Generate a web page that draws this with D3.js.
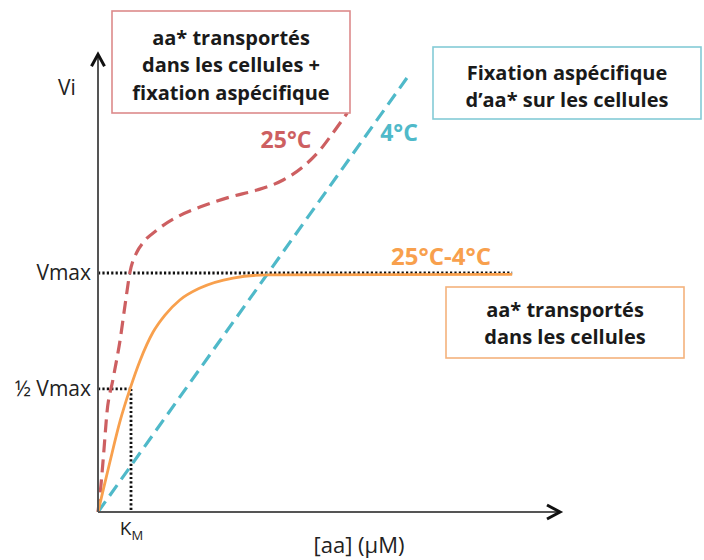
<!DOCTYPE html>
<html><head><meta charset="utf-8">
<script src="https://cdn.jsdelivr.net/npm/d3@7"></script>
<style>
html,body{margin:0;padding:0;background:#fff;}
svg{display:block;}
text{font-family:"Open Sans","Noto Sans",sans-serif;}
</style></head>
<body><svg id="c" width="704" height="560"></svg>
<script>
// ---- data (x in arbitrary [aa] units, K_M = 1; y in units of Vmax) ----
const xMax = 14;
const yMax = 1.915;
const KM = 1;
const Vmax = 1;
const yTickValues = [0.515, 1];
const yTickLabels = ["½ Vmax", "Vmax"];
const xTickValues = [1];
const xTickLabels = ["K|M"];
const yAxisTitle = "Vi";
const xAxisTitle = "[aa] (µM)";

// 25°C total uptake (transport + non-specific binding)
const red25X = [0, 0.09, 0.18, 0.27, 0.45, 0.67, 0.82, 0.97, 1.18, 1.36, 1.79, 2.39, 3.09, 4.00, 4.82, 5.61, 6.21, 6.73, 7.12, 7.55];
const red25Y = [0, 0.113, 0.259, 0.414, 0.552, 0.720, 0.866, 1.004, 1.088, 1.126, 1.180, 1.234, 1.276, 1.318, 1.347, 1.389, 1.444, 1.515, 1.586, 1.669];
// 4°C non-specific binding (linear)
const blue4X = [0, 9.36];
const blue4Y = [0, 1.816];
// 25°C - 4°C : transport (saturable)
const orangeX = [0, 0.18, 0.36, 0.67, 0.97, 1.27, 1.67, 2.03, 2.48, 3.09, 4.09, 5.12, 12.55];
const orangeY = [0, 0.105, 0.209, 0.381, 0.515, 0.632, 0.753, 0.824, 0.887, 0.937, 0.979, 0.992, 0.994];
const vmaxLineEnd = 12.55;

const curveLabels = ["25°C", "4°C", "25°C-4°C"];
const boxTexts = [
  ["aa* transportés", "dans les cellules +", "fixation aspécifique"],
  ["Fixation aspécifique", "d’aa* sur les cellules"],
  ["aa* transportés", "dans les cellules"]
];

// ---- drawing ----
const svg = d3.select("#c");
const x = d3.scaleLinear().domain([0, xMax]).range([98, 560]);
const y = d3.scaleLinear().domain([0, Vmax]).range([512, 273]);

const RED = "#cd5f61", BLUE = "#4fb9c9", ORANGE = "#f8a04d";

// guide dotted lines
const dot = {stroke:"#111", "stroke-width":2.8, "stroke-dasharray":"2.2,2.2"};
function line(x1,y1,x2,y2,attrs){
  const l = svg.append("line").attr("x1",x1).attr("y1",y1).attr("x2",x2).attr("y2",y2);
  for (const k in attrs) l.attr(k, attrs[k]);
  return l;
}
line(x(0), y(Vmax), x(vmaxLineEnd), y(Vmax), dot);
line(x(0), y(yTickValues[0]), x(KM), y(yTickValues[0]), dot);
line(x(KM), y(yTickValues[0]), x(KM), y(0), dot);

// curves
const gen = d3.line().x(d=>x(d[0])).y(d=>y(d[1])).curve(d3.curveMonotoneX);
const zip = (a,b)=>a.map((v,i)=>[v,b[i]]);
svg.append("path").datum(zip(blue4X, blue4Y)).attr("d", d3.line().x(d=>x(d[0])).y(d=>y(d[1])))
  .attr("fill","none").attr("stroke",BLUE).attr("stroke-width",3.2).attr("stroke-dasharray","13,7");
svg.append("path").datum(zip(red25X, red25Y)).attr("d", gen)
  .attr("fill","none").attr("stroke",RED).attr("stroke-width",3.2).attr("stroke-dasharray","13,7");
svg.append("path").datum(zip(orangeX, orangeY)).attr("d", gen)
  .attr("fill","none").attr("stroke",ORANGE).attr("stroke-width",2.8);

// axes lines with arrowheads
line(x(0), y(0), x(0), y(yMax), {stroke:"#555", "stroke-width":2});
line(x(0), y(0), x(xMax), y(0), {stroke:"#555", "stroke-width":2});
svg.append("path").attr("d", `M${x(0)-6.5},${y(yMax)+12} L${x(0)},${y(yMax)} L${x(0)+6.5},${y(yMax)+12}`)
  .attr("fill","none").attr("stroke","#111").attr("stroke-width",3);
svg.append("path").attr("d", `M${x(xMax)-13},${y(0)-7} L${x(xMax)},${y(0)} L${x(xMax)-13},${y(0)+7}`)
  .attr("fill","none").attr("stroke","#111").attr("stroke-width",3);

// y ticks
const ya = svg.append("g").attr("transform",`translate(${x(0)},0)`)
  .call(d3.axisLeft(y).tickValues(yTickValues).tickFormat((d,i)=>yTickLabels[i]).tickSize(0).tickPadding(7));
ya.select(".domain").remove();
ya.selectAll("text").attr("font-size",21).attr("fill","#222").attr("font-family","Open Sans");

// x ticks (K_M with subscript)
const xa = svg.append("g").attr("transform",`translate(0,${y(0)})`)
  .call(d3.axisBottom(x).tickValues(xTickValues).tickFormat(()=>"").tickSize(0).tickPadding(6));
xa.select(".domain").remove();
xa.selectAll(".tick text").each(function(d,i){
  const parts = xTickLabels[i].split("|");
  const t = d3.select(this).attr("font-size",19).attr("fill","#222").attr("dy","0.9em");
  t.append("tspan").text(parts[0]);
  t.append("tspan").text(parts[1]).attr("font-size",13).attr("dy","0.35em");
});

// axis titles
svg.append("text").attr("x",67).attr("y",95).attr("text-anchor","middle").attr("font-size",21).attr("fill","#222").text(yAxisTitle);
svg.append("text").attr("x",359).attr("y",553).attr("text-anchor","middle").attr("font-size",22).attr("fill","#222").text(xAxisTitle);

// curve labels
svg.append("text").attr("x",286).attr("y",148).attr("text-anchor","middle").attr("font-size",23).attr("font-weight","bold").attr("fill",RED).text(curveLabels[0]);
svg.append("text").attr("x",399).attr("y",141).attr("text-anchor","middle").attr("font-size",23).attr("font-weight","bold").attr("fill",BLUE).text(curveLabels[1]);
svg.append("text").attr("x",441).attr("y",265).attr("text-anchor","middle").attr("font-size",24).attr("font-weight","bold").attr("fill",ORANGE).text(curveLabels[2]);

// boxes
function box(x0,y0,x1,y1,color,lines,lineYs){
  svg.append("rect").attr("x",x0).attr("y",y0).attr("width",x1-x0).attr("height",y1-y0)
    .attr("fill","#fff").attr("stroke",color).attr("stroke-width",1.6);
  const cx=(x0+x1)/2;
  lines.forEach((s,i)=>{
    svg.append("text").attr("x",cx).attr("y",lineYs[i]).attr("text-anchor","middle")
      .attr("font-size",20).attr("font-weight","bold").attr("fill","#1a1a1a").text(s);
  });
}
box(112,11,350,113,"#dc8a8b",boxTexts[0],[45,72,100]);
box(433,47,701,119,"#84cbd6",boxTexts[1],[80,107]);
box(446,287,684,358,"#f4b27c",boxTexts[2],[317,344]);
</script></body></html>
